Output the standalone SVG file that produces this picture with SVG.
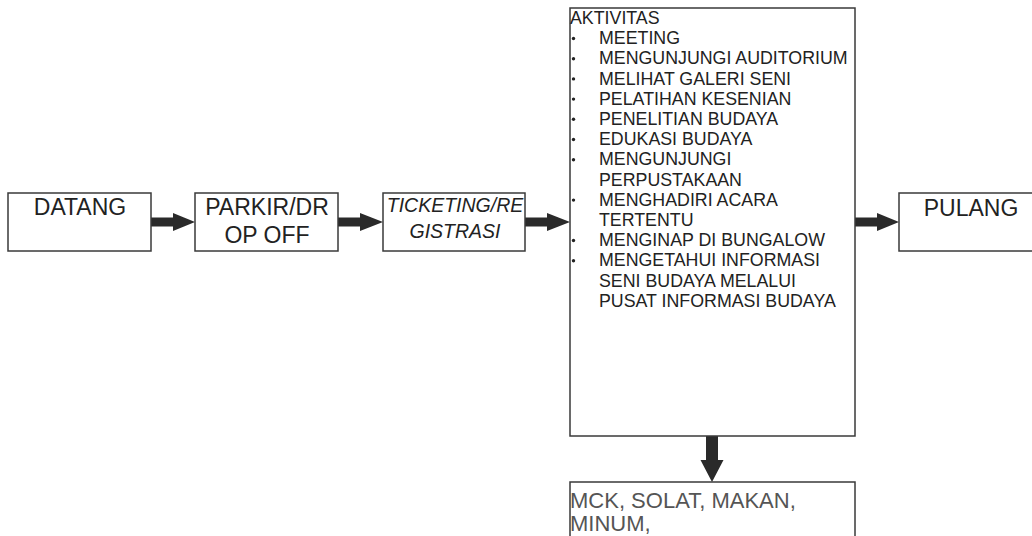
<svg xmlns="http://www.w3.org/2000/svg" width="1032" height="536" viewBox="0 0 1032 536">
<defs>
<style>
.box{fill:#fff;stroke:#3a3a3a;stroke-width:1.5}
.t{font-family:"Liberation Sans",Arial,sans-serif;fill:#222}
.big{font-size:23px}
.it{font-size:19.5px;font-style:italic}
.list{font-size:17.8px}
.bot{font-size:22px;fill:#555}
.bul{fill:#222}
.arr{fill:#2a2a2a}
</style>
</defs>
<rect width="1032" height="536" fill="#fff"/>
<g id="connectors">
<path class="arr" d="M151,217.5 H173 V213 L195,222 L173,231 V226.5 H151 Z"/>
<path class="arr" d="M338,217.5 H360 V213 L383,222 L360,231 V226.5 H338 Z"/>
<path class="arr" d="M525,217.5 H547 V213 L570,222 L547,231 V226.5 H525 Z"/>
<path class="arr" d="M855,217.5 H877 V213 L899,222 L877,231 V226.5 H855 Z"/>
<path class="arr" d="M706,436 V460 H700.5 L712,482 L723.5,460 H718 V436 Z"/>
</g>
<g id="datang">
<rect class="box" x="8" y="193" width="143" height="58"/>
<text class="t big" x="80" y="215" text-anchor="middle">DATANG</text>
</g>
<g id="parkir">
<rect class="box" x="195" y="193" width="143" height="58"/>
<text class="t big" x="267" y="215" text-anchor="middle">PARKIR/DR</text>
<text class="t big" x="267" y="243" text-anchor="middle">OP OFF</text>
</g>
<g id="ticketing">
<rect class="box" x="383" y="193" width="142" height="58"/>
<text class="t it" x="455" y="212" text-anchor="middle">TICKETING/RE</text>
<text class="t it" x="455" y="238" text-anchor="middle">GISTRASI</text>
</g>
<g id="aktivitas">
<rect class="box" x="570" y="8" width="285" height="428"/>
<g class="t list">
<text x="570" y="24">AKTIVITAS</text>
<text x="599" y="44.2">MEETING</text>
<text x="599" y="64.4">MENGUNJUNGI AUDITORIUM</text>
<text x="599" y="84.6">MELIHAT GALERI SENI</text>
<text x="599" y="104.8">PELATIHAN KESENIAN</text>
<text x="599" y="125">PENELITIAN BUDAYA</text>
<text x="599" y="145.2">EDUKASI BUDAYA</text>
<text x="599" y="165.4">MENGUNJUNGI</text>
<text x="599" y="185.6">PERPUSTAKAAN</text>
<text x="599" y="205.8">MENGHADIRI ACARA</text>
<text x="599" y="226">TERTENTU</text>
<text x="599" y="246.2">MENGINAP DI BUNGALOW</text>
<text x="599" y="266.4">MENGETAHUI INFORMASI</text>
<text x="599" y="286.6">SENI BUDAYA MELALUI</text>
<text x="599" y="306.8">PUSAT INFORMASI BUDAYA</text>
</g>
<g class="bul">
<circle cx="573.5" cy="38.5" r="1.7"/>
<circle cx="573.5" cy="58.7" r="1.7"/>
<circle cx="573.5" cy="78.9" r="1.7"/>
<circle cx="573.5" cy="99.1" r="1.7"/>
<circle cx="573.5" cy="119.3" r="1.7"/>
<circle cx="573.5" cy="139.5" r="1.7"/>
<circle cx="573.5" cy="159.7" r="1.7"/>
<circle cx="573.5" cy="200.1" r="1.7"/>
<circle cx="573.5" cy="240.5" r="1.7"/>
<circle cx="573.5" cy="260.7" r="1.7"/>
</g>
</g>
<g id="pulang">
<rect class="box" x="899" y="193" width="150" height="58"/>
<text class="t big" x="971" y="216" text-anchor="middle">PULANG</text>
</g>
<g id="mck">
<rect class="box" x="570" y="482" width="285" height="70"/>
<text class="t bot" x="570" y="508">MCK, SOLAT, MAKAN,<tspan x="570" y="531">MINUM,</tspan></text>
</g>
</svg>
